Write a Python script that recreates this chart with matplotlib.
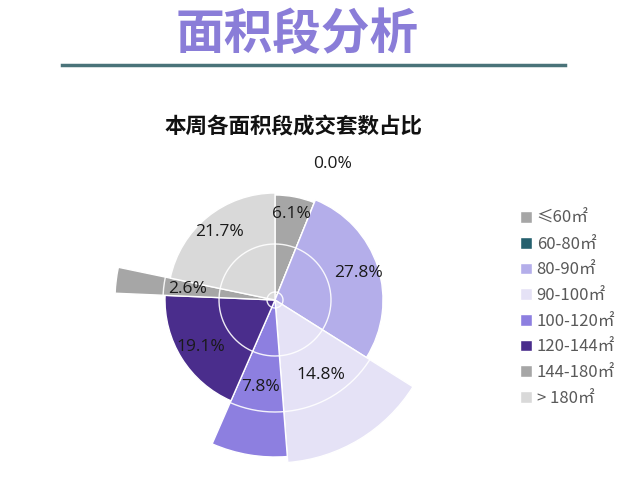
import numpy as np
import matplotlib
matplotlib.use("Agg")
import matplotlib.pyplot as plt

plt.rcParams["font.family"] = ["Noto Sans CJK SC", "DejaVu Sans"]

# area bands, share of deals (%), and the petal length
categories = ["≤60㎡", "60-80㎡", "80-90㎡", "90-100㎡", "100-120㎡", "120-144㎡", "144-180㎡", "> 180㎡"]
shares = [6.1, 0.0, 27.8, 14.8, 7.8, 19.1, 2.6, 21.7]
radius = [105, 105, 108, 163, 157, 110, 160, 107]
colors = ["#a6a6a6", "#25606e", "#b4aeea", "#e5e2f6", "#8d7fe0", "#4a2d8c", "#a6a6a6", "#d9d9d9"]
label_text = ["6.1%", "0.0%", "27.8%", "14.8%", "7.8%", "19.1%", "2.6%", "21.7%"]
grid_r = [8, 56, 112]


def main():
    fig = plt.figure(figsize=(6.25, 4.82), dpi=100)

    # headline and rule
    fig.text(0.476, 0.928, "面积段分析", ha="center", va="center",
             fontsize=35, fontweight="bold", color="#8a7dd8")
    fig.add_artist(plt.Line2D([62 / 625, 565 / 625], [1 - 65 / 482, 1 - 65 / 482],
                              color="#4a7379", linewidth=2.5))
    fig.text(0.47, 1 - 127 / 482, "本周各面积段成交套数占比", ha="center", va="center",
             fontsize=15.5, fontweight="bold", color="#111111")

    rmax = 170
    cx, cy = 275, 300
    ax = fig.add_axes([(cx - rmax) / 625, (482 - cy - rmax) / 482,
                       2 * rmax / 625, 2 * rmax / 482], projection="polar")
    ax.set_theta_zero_location("N")
    ax.set_theta_direction(-1)

    shares_arr = np.array(shares)
    widths = shares_arr / shares_arr.sum() * 2 * np.pi
    starts = np.concatenate([[0], np.cumsum(widths)[:-1]])

    for st, w, r, c, name in zip(starts, widths, radius, colors, categories):
        ax.bar(st, r, width=w, bottom=0, align="edge", color=c,
               edgecolor="white", linewidth=1.0, label=name, zorder=2)

    th = np.linspace(0, 2 * np.pi, 361)
    for g in grid_r:
        ax.plot(th, np.full_like(th, g), color="white", linewidth=1.0, alpha=0.9, zorder=3)

    # percent labels
    for st, w, txt in zip(starts, widths, label_text):
        mid = st + w / 2
        r_lab = 148 if txt == "0.0%" else 88
        if txt == "0.0%":
            mid = np.deg2rad(23)
        ax.text(mid, r_lab, txt, ha="center", va="center", fontsize=12.5,
                family=["Open Sans", "DejaVu Sans"], color="#1a1a1a", zorder=4)

    ax.set_ylim(0, rmax)
    ax.set_xticks([])
    ax.set_yticks([])
    ax.grid(False)
    ax.spines["polar"].set_visible(False)
    ax.set_facecolor("none")

    handles, labels = ax.get_legend_handles_labels()
    fig.legend(handles, labels, loc="upper left", bbox_to_anchor=(0.832, 1 - 210 / 482),
               frameon=False, handlelength=0.7, handleheight=0.7,
               handletextpad=0.3, labelspacing=0.52, labelcolor="#595959",
               borderaxespad=0, borderpad=0,
               prop={"family": ["Noto Sans CJK SC", "DejaVu Sans"], "size": 12})

    fig.savefig("out.png", dpi=100)


if __name__ == "__main__":
    main()
